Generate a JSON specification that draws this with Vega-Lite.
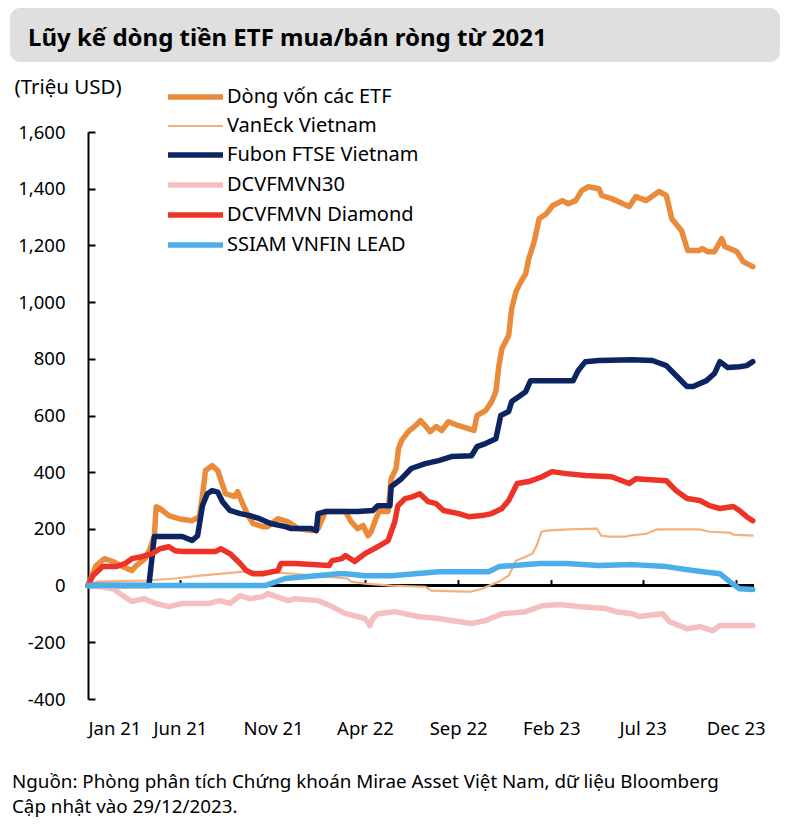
{
  "$schema": "https://vega.github.io/schema/vega-lite/v6.json",
  "padding": {"left": 10, "top": 8, "right": 8, "bottom": 2},
  "background": "white",
  "config": {"font": "Noto Sans", "view": {"stroke": null}},
  "title": {"text": ["Nguồn: Phòng phân tích Chứng khoán Mirae Asset Việt Nam, dữ liệu Bloomberg", "Cập nhật vào 29/12/2023."], "orient": "bottom", "anchor": "start", "fontSize": 18.8, "fontWeight": "normal", "font": "Noto Sans", "color": "#000", "lineHeight": 25, "offset": 35, "dx": 2},
  "columns": 1,
  "spacing": 15,
  "concat": [
    {
      "width": 770, "height": 54,
      "view": {"fill": "#dfdfdf", "cornerRadius": 10, "stroke": null},
      "data": {"values": [{"t": "Lũy kế dòng tiền ETF mua/bán ròng từ 2021"}]},
      "mark": {"type": "text", "align": "left", "baseline": "alphabetic", "font": "Noto Sans", "fontWeight": "bold", "fontSize": 24, "color": "#000"},
      "encoding": {"text": {"field": "t"}, "x": {"value": 18}, "y": {"value": 38}}
    },
    {
      "width": 744, "height": 567,
      "data": {"values": [
        {"d":"2021-01-01","s":"Dòng vốn các ETF","v":0},
        {"d":"2021-01-14","s":"Dòng vốn các ETF","v":70},
        {"d":"2021-01-28","s":"Dòng vốn các ETF","v":95},
        {"d":"2021-02-11","s":"Dòng vốn các ETF","v":85},
        {"d":"2021-02-27","s":"Dòng vốn các ETF","v":67},
        {"d":"2021-03-14","s":"Dòng vốn các ETF","v":53},
        {"d":"2021-03-21","s":"Dòng vốn các ETF","v":70},
        {"d":"2021-04-05","s":"Dòng vốn các ETF","v":95},
        {"d":"2021-04-13","s":"Dòng vốn các ETF","v":130},
        {"d":"2021-04-20","s":"Dòng vốn các ETF","v":176},
        {"d":"2021-04-23","s":"Dòng vốn các ETF","v":278},
        {"d":"2021-04-29","s":"Dòng vốn các ETF","v":272},
        {"d":"2021-05-14","s":"Dòng vốn các ETF","v":247},
        {"d":"2021-05-30","s":"Dòng vốn các ETF","v":236},
        {"d":"2021-06-21","s":"Dòng vốn các ETF","v":229},
        {"d":"2021-07-03","s":"Dòng vốn các ETF","v":243},
        {"d":"2021-07-08","s":"Dòng vốn các ETF","v":317},
        {"d":"2021-07-13","s":"Dòng vốn các ETF","v":406},
        {"d":"2021-07-24","s":"Dòng vốn các ETF","v":423},
        {"d":"2021-08-02","s":"Dòng vốn các ETF","v":406},
        {"d":"2021-08-15","s":"Dòng vốn các ETF","v":324},
        {"d":"2021-08-30","s":"Dòng vốn các ETF","v":314},
        {"d":"2021-09-04","s":"Dòng vốn các ETF","v":331},
        {"d":"2021-09-12","s":"Dòng vốn các ETF","v":289},
        {"d":"2021-09-21","s":"Dòng vốn các ETF","v":247},
        {"d":"2021-09-29","s":"Dòng vốn các ETF","v":219},
        {"d":"2021-10-15","s":"Dòng vốn các ETF","v":208},
        {"d":"2021-10-23","s":"Dòng vốn các ETF","v":208},
        {"d":"2021-11-09","s":"Dòng vốn các ETF","v":236},
        {"d":"2021-11-25","s":"Dòng vốn các ETF","v":226},
        {"d":"2021-12-12","s":"Dòng vốn các ETF","v":201},
        {"d":"2022-01-03","s":"Dòng vốn các ETF","v":194},
        {"d":"2022-01-14","s":"Dòng vốn các ETF","v":201},
        {"d":"2022-01-26","s":"Dòng vốn các ETF","v":261},
        {"d":"2022-02-28","s":"Dòng vốn các ETF","v":261},
        {"d":"2022-03-09","s":"Dòng vốn các ETF","v":226},
        {"d":"2022-03-20","s":"Dòng vốn các ETF","v":201},
        {"d":"2022-03-29","s":"Dòng vốn các ETF","v":212},
        {"d":"2022-04-06","s":"Dòng vốn các ETF","v":176},
        {"d":"2022-04-11","s":"Dòng vốn các ETF","v":190},
        {"d":"2022-04-19","s":"Dòng vốn các ETF","v":236},
        {"d":"2022-04-25","s":"Dòng vốn các ETF","v":265},
        {"d":"2022-05-01","s":"Dòng vốn các ETF","v":261},
        {"d":"2022-05-09","s":"Dòng vốn các ETF","v":261},
        {"d":"2022-05-14","s":"Dòng vốn các ETF","v":377},
        {"d":"2022-05-22","s":"Dòng vốn các ETF","v":413},
        {"d":"2022-05-26","s":"Dòng vốn các ETF","v":483},
        {"d":"2022-05-31","s":"Dòng vốn các ETF","v":511},
        {"d":"2022-06-11","s":"Dòng vốn các ETF","v":543},
        {"d":"2022-06-23","s":"Dòng vốn các ETF","v":564},
        {"d":"2022-07-01","s":"Dòng vốn các ETF","v":582},
        {"d":"2022-07-09","s":"Dòng vốn các ETF","v":564},
        {"d":"2022-07-17","s":"Dòng vốn các ETF","v":543},
        {"d":"2022-07-27","s":"Dòng vốn các ETF","v":561},
        {"d":"2022-08-05","s":"Dòng vốn các ETF","v":547},
        {"d":"2022-08-16","s":"Dòng vốn các ETF","v":578},
        {"d":"2022-09-02","s":"Dòng vốn các ETF","v":564},
        {"d":"2022-09-18","s":"Dòng vốn các ETF","v":554},
        {"d":"2022-09-27","s":"Dòng vốn các ETF","v":547},
        {"d":"2022-10-02","s":"Dòng vốn các ETF","v":600},
        {"d":"2022-10-16","s":"Dòng vốn các ETF","v":617},
        {"d":"2022-10-26","s":"Dòng vốn các ETF","v":649},
        {"d":"2022-11-02","s":"Dòng vốn các ETF","v":684},
        {"d":"2022-11-07","s":"Dòng vốn các ETF","v":776},
        {"d":"2022-11-12","s":"Dòng vốn các ETF","v":836},
        {"d":"2022-11-23","s":"Dòng vốn các ETF","v":882},
        {"d":"2022-11-28","s":"Dòng vốn các ETF","v":977},
        {"d":"2022-12-05","s":"Dòng vốn các ETF","v":1037},
        {"d":"2022-12-13","s":"Dòng vốn các ETF","v":1072},
        {"d":"2022-12-21","s":"Dòng vốn các ETF","v":1100},
        {"d":"2022-12-26","s":"Dòng vốn các ETF","v":1153},
        {"d":"2023-01-04","s":"Dòng vốn các ETF","v":1213},
        {"d":"2023-01-12","s":"Dòng vốn các ETF","v":1294},
        {"d":"2023-01-24","s":"Dòng vốn các ETF","v":1312},
        {"d":"2023-02-03","s":"Dòng vốn các ETF","v":1340},
        {"d":"2023-02-19","s":"Dòng vốn các ETF","v":1358},
        {"d":"2023-03-01","s":"Dòng vốn các ETF","v":1347},
        {"d":"2023-03-13","s":"Dòng vốn các ETF","v":1358},
        {"d":"2023-03-23","s":"Dòng vốn các ETF","v":1393},
        {"d":"2023-04-03","s":"Dòng vốn các ETF","v":1407},
        {"d":"2023-04-20","s":"Dòng vốn các ETF","v":1400},
        {"d":"2023-04-25","s":"Dòng vốn các ETF","v":1376},
        {"d":"2023-05-11","s":"Dòng vốn các ETF","v":1365},
        {"d":"2023-06-09","s":"Dòng vốn các ETF","v":1337},
        {"d":"2023-06-20","s":"Dòng vốn các ETF","v":1372},
        {"d":"2023-07-07","s":"Dòng vốn các ETF","v":1358},
        {"d":"2023-07-28","s":"Dòng vốn các ETF","v":1390},
        {"d":"2023-08-09","s":"Dòng vốn các ETF","v":1376},
        {"d":"2023-08-18","s":"Dòng vốn các ETF","v":1294},
        {"d":"2023-09-03","s":"Dòng vốn các ETF","v":1252},
        {"d":"2023-09-13","s":"Dòng vốn các ETF","v":1182},
        {"d":"2023-10-02","s":"Dòng vốn các ETF","v":1182},
        {"d":"2023-10-07","s":"Dòng vốn các ETF","v":1189},
        {"d":"2023-10-16","s":"Dòng vốn các ETF","v":1178},
        {"d":"2023-10-27","s":"Dòng vốn các ETF","v":1178},
        {"d":"2023-11-08","s":"Dòng vốn các ETF","v":1224},
        {"d":"2023-11-13","s":"Dòng vốn các ETF","v":1196},
        {"d":"2023-12-03","s":"Dòng vốn các ETF","v":1178},
        {"d":"2023-12-13","s":"Dòng vốn các ETF","v":1143},
        {"d":"2023-12-29","s":"Dòng vốn các ETF","v":1125},

        {"d":"2021-01-01","s":"VanEck Vietnam","v":0},
        {"d":"2021-01-17","s":"VanEck Vietnam","v":14},
        {"d":"2021-04-08","s":"VanEck Vietnam","v":18},
        {"d":"2021-05-24","s":"VanEck Vietnam","v":25},
        {"d":"2021-07-03","s":"VanEck Vietnam","v":35},
        {"d":"2021-08-10","s":"VanEck Vietnam","v":42},
        {"d":"2021-09-12","s":"VanEck Vietnam","v":49},
        {"d":"2021-10-15","s":"VanEck Vietnam","v":49},
        {"d":"2021-12-01","s":"VanEck Vietnam","v":42},
        {"d":"2022-03-03","s":"VanEck Vietnam","v":25},
        {"d":"2022-03-09","s":"VanEck Vietnam","v":14},
        {"d":"2022-04-01","s":"VanEck Vietnam","v":7},
        {"d":"2022-05-14","s":"VanEck Vietnam","v":0},
        {"d":"2022-07-09","s":"VanEck Vietnam","v":-4},
        {"d":"2022-07-19","s":"VanEck Vietnam","v":-18},
        {"d":"2022-09-14","s":"VanEck Vietnam","v":-21},
        {"d":"2022-09-23","s":"VanEck Vietnam","v":-21},
        {"d":"2022-10-10","s":"VanEck Vietnam","v":-11},
        {"d":"2022-11-07","s":"VanEck Vietnam","v":14},
        {"d":"2022-11-23","s":"VanEck Vietnam","v":35},
        {"d":"2022-12-05","s":"VanEck Vietnam","v":88},
        {"d":"2022-12-21","s":"VanEck Vietnam","v":102},
        {"d":"2023-01-01","s":"VanEck Vietnam","v":113},
        {"d":"2023-01-08","s":"VanEck Vietnam","v":141},
        {"d":"2023-01-16","s":"VanEck Vietnam","v":190},
        {"d":"2023-01-24","s":"VanEck Vietnam","v":194},
        {"d":"2023-03-01","s":"VanEck Vietnam","v":198},
        {"d":"2023-04-17","s":"VanEck Vietnam","v":201},
        {"d":"2023-04-24","s":"VanEck Vietnam","v":176},
        {"d":"2023-05-06","s":"VanEck Vietnam","v":173},
        {"d":"2023-06-04","s":"VanEck Vietnam","v":173},
        {"d":"2023-06-09","s":"VanEck Vietnam","v":176},
        {"d":"2023-07-07","s":"VanEck Vietnam","v":183},
        {"d":"2023-07-24","s":"VanEck Vietnam","v":198},
        {"d":"2023-10-03","s":"VanEck Vietnam","v":198},
        {"d":"2023-10-19","s":"VanEck Vietnam","v":190},
        {"d":"2023-11-21","s":"VanEck Vietnam","v":187},
        {"d":"2023-11-27","s":"VanEck Vietnam","v":180},
        {"d":"2023-12-29","s":"VanEck Vietnam","v":176},

        {"d":"2021-01-01","s":"Fubon FTSE Vietnam","v":0},
        {"d":"2021-04-11","s":"Fubon FTSE Vietnam","v":0},
        {"d":"2021-04-20","s":"Fubon FTSE Vietnam","v":173},
        {"d":"2021-06-05","s":"Fubon FTSE Vietnam","v":173},
        {"d":"2021-06-21","s":"Fubon FTSE Vietnam","v":159},
        {"d":"2021-06-30","s":"Fubon FTSE Vietnam","v":176},
        {"d":"2021-07-08","s":"Fubon FTSE Vietnam","v":282},
        {"d":"2021-07-16","s":"Fubon FTSE Vietnam","v":324},
        {"d":"2021-07-24","s":"Fubon FTSE Vietnam","v":335},
        {"d":"2021-08-02","s":"Fubon FTSE Vietnam","v":330},
        {"d":"2021-08-10","s":"Fubon FTSE Vietnam","v":296},
        {"d":"2021-08-22","s":"Fubon FTSE Vietnam","v":265},
        {"d":"2021-09-08","s":"Fubon FTSE Vietnam","v":254},
        {"d":"2021-09-24","s":"Fubon FTSE Vietnam","v":247},
        {"d":"2021-10-10","s":"Fubon FTSE Vietnam","v":236},
        {"d":"2021-10-28","s":"Fubon FTSE Vietnam","v":219},
        {"d":"2021-11-21","s":"Fubon FTSE Vietnam","v":208},
        {"d":"2021-12-01","s":"Fubon FTSE Vietnam","v":201},
        {"d":"2022-01-03","s":"Fubon FTSE Vietnam","v":201},
        {"d":"2022-01-11","s":"Fubon FTSE Vietnam","v":194},
        {"d":"2022-01-14","s":"Fubon FTSE Vietnam","v":254},
        {"d":"2022-01-26","s":"Fubon FTSE Vietnam","v":261},
        {"d":"2022-03-20","s":"Fubon FTSE Vietnam","v":261},
        {"d":"2022-04-14","s":"Fubon FTSE Vietnam","v":265},
        {"d":"2022-04-22","s":"Fubon FTSE Vietnam","v":282},
        {"d":"2022-05-12","s":"Fubon FTSE Vietnam","v":282},
        {"d":"2022-05-14","s":"Fubon FTSE Vietnam","v":349},
        {"d":"2022-05-31","s":"Fubon FTSE Vietnam","v":377},
        {"d":"2022-06-16","s":"Fubon FTSE Vietnam","v":413},
        {"d":"2022-07-09","s":"Fubon FTSE Vietnam","v":430},
        {"d":"2022-07-31","s":"Fubon FTSE Vietnam","v":441},
        {"d":"2022-08-21","s":"Fubon FTSE Vietnam","v":455},
        {"d":"2022-09-23","s":"Fubon FTSE Vietnam","v":458},
        {"d":"2022-10-02","s":"Fubon FTSE Vietnam","v":490},
        {"d":"2022-10-16","s":"Fubon FTSE Vietnam","v":501},
        {"d":"2022-11-02","s":"Fubon FTSE Vietnam","v":518},
        {"d":"2022-11-10","s":"Fubon FTSE Vietnam","v":600},
        {"d":"2022-11-23","s":"Fubon FTSE Vietnam","v":614},
        {"d":"2022-11-28","s":"Fubon FTSE Vietnam","v":649},
        {"d":"2022-12-10","s":"Fubon FTSE Vietnam","v":667},
        {"d":"2022-12-21","s":"Fubon FTSE Vietnam","v":684},
        {"d":"2022-12-29","s":"Fubon FTSE Vietnam","v":723},
        {"d":"2023-03-09","s":"Fubon FTSE Vietnam","v":723},
        {"d":"2023-03-17","s":"Fubon FTSE Vietnam","v":758},
        {"d":"2023-03-29","s":"Fubon FTSE Vietnam","v":790},
        {"d":"2023-04-20","s":"Fubon FTSE Vietnam","v":794},
        {"d":"2023-06-14","s":"Fubon FTSE Vietnam","v":797},
        {"d":"2023-07-17","s":"Fubon FTSE Vietnam","v":794},
        {"d":"2023-08-09","s":"Fubon FTSE Vietnam","v":776},
        {"d":"2023-08-25","s":"Fubon FTSE Vietnam","v":741},
        {"d":"2023-09-12","s":"Fubon FTSE Vietnam","v":702},
        {"d":"2023-09-22","s":"Fubon FTSE Vietnam","v":702},
        {"d":"2023-10-14","s":"Fubon FTSE Vietnam","v":723},
        {"d":"2023-10-27","s":"Fubon FTSE Vietnam","v":748},
        {"d":"2023-11-05","s":"Fubon FTSE Vietnam","v":790},
        {"d":"2023-11-18","s":"Fubon FTSE Vietnam","v":769},
        {"d":"2023-12-07","s":"Fubon FTSE Vietnam","v":772},
        {"d":"2023-12-19","s":"Fubon FTSE Vietnam","v":776},
        {"d":"2023-12-29","s":"Fubon FTSE Vietnam","v":790},

        {"d":"2021-01-01","s":"DCVFMVN30","v":0},
        {"d":"2021-01-25","s":"DCVFMVN30","v":-5},
        {"d":"2021-02-11","s":"DCVFMVN30","v":-11},
        {"d":"2021-02-27","s":"DCVFMVN30","v":-35},
        {"d":"2021-03-14","s":"DCVFMVN30","v":-56},
        {"d":"2021-04-03","s":"DCVFMVN30","v":-46},
        {"d":"2021-04-22","s":"DCVFMVN30","v":-63},
        {"d":"2021-05-14","s":"DCVFMVN30","v":-74},
        {"d":"2021-06-05","s":"DCVFMVN30","v":-63},
        {"d":"2021-07-19","s":"DCVFMVN30","v":-63},
        {"d":"2021-08-05","s":"DCVFMVN30","v":-53},
        {"d":"2021-08-22","s":"DCVFMVN30","v":-63},
        {"d":"2021-09-08","s":"DCVFMVN30","v":-35},
        {"d":"2021-09-24","s":"DCVFMVN30","v":-46},
        {"d":"2021-10-15","s":"DCVFMVN30","v":-39},
        {"d":"2021-10-23","s":"DCVFMVN30","v":-28},
        {"d":"2021-11-26","s":"DCVFMVN30","v":-53},
        {"d":"2021-12-07","s":"DCVFMVN30","v":-46},
        {"d":"2022-01-14","s":"DCVFMVN30","v":-53},
        {"d":"2022-02-06","s":"DCVFMVN30","v":-74},
        {"d":"2022-02-28","s":"DCVFMVN30","v":-99},
        {"d":"2022-03-20","s":"DCVFMVN30","v":-109},
        {"d":"2022-04-01","s":"DCVFMVN30","v":-116},
        {"d":"2022-04-09","s":"DCVFMVN30","v":-141},
        {"d":"2022-04-14","s":"DCVFMVN30","v":-116},
        {"d":"2022-04-22","s":"DCVFMVN30","v":-99},
        {"d":"2022-05-20","s":"DCVFMVN30","v":-92},
        {"d":"2022-06-27","s":"DCVFMVN30","v":-109},
        {"d":"2022-07-31","s":"DCVFMVN30","v":-116},
        {"d":"2022-09-22","s":"DCVFMVN30","v":-134},
        {"d":"2022-10-16","s":"DCVFMVN30","v":-123},
        {"d":"2022-11-12","s":"DCVFMVN30","v":-99},
        {"d":"2022-12-21","s":"DCVFMVN30","v":-92},
        {"d":"2023-01-17","s":"DCVFMVN30","v":-71},
        {"d":"2023-02-15","s":"DCVFMVN30","v":-67},
        {"d":"2023-03-17","s":"DCVFMVN30","v":-74},
        {"d":"2023-05-02","s":"DCVFMVN30","v":-81},
        {"d":"2023-05-18","s":"DCVFMVN30","v":-92},
        {"d":"2023-06-14","s":"DCVFMVN30","v":-99},
        {"d":"2023-06-25","s":"DCVFMVN30","v":-109},
        {"d":"2023-08-03","s":"DCVFMVN30","v":-99},
        {"d":"2023-08-14","s":"DCVFMVN30","v":-127},
        {"d":"2023-09-12","s":"DCVFMVN30","v":-152},
        {"d":"2023-10-03","s":"DCVFMVN30","v":-145},
        {"d":"2023-10-24","s":"DCVFMVN30","v":-159},
        {"d":"2023-11-05","s":"DCVFMVN30","v":-141},
        {"d":"2023-12-29","s":"DCVFMVN30","v":-141},

        {"d":"2021-01-01","s":"DCVFMVN Diamond","v":0},
        {"d":"2021-01-09","s":"DCVFMVN Diamond","v":35},
        {"d":"2021-01-25","s":"DCVFMVN Diamond","v":67},
        {"d":"2021-02-16","s":"DCVFMVN Diamond","v":67},
        {"d":"2021-03-03","s":"DCVFMVN Diamond","v":78},
        {"d":"2021-03-14","s":"DCVFMVN Diamond","v":95},
        {"d":"2021-03-30","s":"DCVFMVN Diamond","v":102},
        {"d":"2021-04-17","s":"DCVFMVN Diamond","v":113},
        {"d":"2021-04-29","s":"DCVFMVN Diamond","v":130},
        {"d":"2021-05-14","s":"DCVFMVN Diamond","v":137},
        {"d":"2021-05-24","s":"DCVFMVN Diamond","v":123},
        {"d":"2021-06-05","s":"DCVFMVN Diamond","v":120},
        {"d":"2021-07-29","s":"DCVFMVN Diamond","v":120},
        {"d":"2021-08-07","s":"DCVFMVN Diamond","v":130},
        {"d":"2021-08-22","s":"DCVFMVN Diamond","v":113},
        {"d":"2021-09-08","s":"DCVFMVN Diamond","v":78},
        {"d":"2021-09-18","s":"DCVFMVN Diamond","v":53},
        {"d":"2021-09-29","s":"DCVFMVN Diamond","v":42},
        {"d":"2021-10-15","s":"DCVFMVN Diamond","v":42},
        {"d":"2021-11-09","s":"DCVFMVN Diamond","v":53},
        {"d":"2021-11-14","s":"DCVFMVN Diamond","v":78},
        {"d":"2021-12-07","s":"DCVFMVN Diamond","v":78},
        {"d":"2022-02-01","s":"DCVFMVN Diamond","v":71},
        {"d":"2022-02-06","s":"DCVFMVN Diamond","v":88},
        {"d":"2022-02-22","s":"DCVFMVN Diamond","v":95},
        {"d":"2022-02-28","s":"DCVFMVN Diamond","v":106},
        {"d":"2022-03-15","s":"DCVFMVN Diamond","v":85},
        {"d":"2022-04-01","s":"DCVFMVN Diamond","v":113},
        {"d":"2022-04-22","s":"DCVFMVN Diamond","v":137},
        {"d":"2022-05-09","s":"DCVFMVN Diamond","v":159},
        {"d":"2022-05-20","s":"DCVFMVN Diamond","v":226},
        {"d":"2022-05-25","s":"DCVFMVN Diamond","v":282},
        {"d":"2022-06-06","s":"DCVFMVN Diamond","v":307},
        {"d":"2022-06-19","s":"DCVFMVN Diamond","v":314},
        {"d":"2022-06-30","s":"DCVFMVN Diamond","v":324},
        {"d":"2022-07-14","s":"DCVFMVN Diamond","v":296},
        {"d":"2022-07-27","s":"DCVFMVN Diamond","v":289},
        {"d":"2022-08-08","s":"DCVFMVN Diamond","v":265},
        {"d":"2022-09-02","s":"DCVFMVN Diamond","v":254},
        {"d":"2022-09-18","s":"DCVFMVN Diamond","v":243},
        {"d":"2022-10-10","s":"DCVFMVN Diamond","v":247},
        {"d":"2022-10-26","s":"DCVFMVN Diamond","v":254},
        {"d":"2022-11-12","s":"DCVFMVN Diamond","v":272},
        {"d":"2022-11-23","s":"DCVFMVN Diamond","v":300},
        {"d":"2022-12-07","s":"DCVFMVN Diamond","v":360},
        {"d":"2022-12-26","s":"DCVFMVN Diamond","v":367},
        {"d":"2023-01-17","s":"DCVFMVN Diamond","v":384},
        {"d":"2023-02-02","s":"DCVFMVN Diamond","v":402},
        {"d":"2023-02-26","s":"DCVFMVN Diamond","v":395},
        {"d":"2023-03-29","s":"DCVFMVN Diamond","v":388},
        {"d":"2023-05-11","s":"DCVFMVN Diamond","v":384},
        {"d":"2023-06-09","s":"DCVFMVN Diamond","v":360},
        {"d":"2023-06-20","s":"DCVFMVN Diamond","v":377},
        {"d":"2023-08-09","s":"DCVFMVN Diamond","v":370},
        {"d":"2023-08-25","s":"DCVFMVN Diamond","v":335},
        {"d":"2023-09-12","s":"DCVFMVN Diamond","v":307},
        {"d":"2023-10-03","s":"DCVFMVN Diamond","v":300},
        {"d":"2023-10-19","s":"DCVFMVN Diamond","v":282},
        {"d":"2023-11-05","s":"DCVFMVN Diamond","v":272},
        {"d":"2023-11-27","s":"DCVFMVN Diamond","v":279},
        {"d":"2023-12-07","s":"DCVFMVN Diamond","v":265},
        {"d":"2023-12-19","s":"DCVFMVN Diamond","v":243},
        {"d":"2023-12-29","s":"DCVFMVN Diamond","v":229},

        {"d":"2021-01-01","s":"SSIAM VNFIN LEAD","v":0},
        {"d":"2021-10-19","s":"SSIAM VNFIN LEAD","v":0},
        {"d":"2021-11-21","s":"SSIAM VNFIN LEAD","v":25},
        {"d":"2022-02-17","s":"SSIAM VNFIN LEAD","v":42},
        {"d":"2022-02-28","s":"SSIAM VNFIN LEAD","v":42},
        {"d":"2022-04-01","s":"SSIAM VNFIN LEAD","v":35},
        {"d":"2022-05-14","s":"SSIAM VNFIN LEAD","v":35},
        {"d":"2022-07-31","s":"SSIAM VNFIN LEAD","v":49},
        {"d":"2022-08-16","s":"SSIAM VNFIN LEAD","v":49},
        {"d":"2022-10-21","s":"SSIAM VNFIN LEAD","v":49},
        {"d":"2022-11-07","s":"SSIAM VNFIN LEAD","v":67},
        {"d":"2023-01-13","s":"SSIAM VNFIN LEAD","v":78},
        {"d":"2023-02-26","s":"SSIAM VNFIN LEAD","v":78},
        {"d":"2023-04-20","s":"SSIAM VNFIN LEAD","v":71},
        {"d":"2023-06-14","s":"SSIAM VNFIN LEAD","v":74},
        {"d":"2023-08-09","s":"SSIAM VNFIN LEAD","v":67},
        {"d":"2023-09-22","s":"SSIAM VNFIN LEAD","v":53},
        {"d":"2023-11-05","s":"SSIAM VNFIN LEAD","v":42},
        {"d":"2023-11-21","s":"SSIAM VNFIN LEAD","v":14},
        {"d":"2023-12-07","s":"SSIAM VNFIN LEAD","v":-11},
        {"d":"2023-12-29","s":"SSIAM VNFIN LEAD","v":-14}
      ]},
      "resolve": {"axis": {"x": "independent"}},
      "layer": [
        {
          "mark": {"type": "rule", "color": "#000", "strokeWidth": 2.5},
          "encoding": {
            "x": {"datum": {"year": 2021, "month": 1, "date": 1, "utc": true}, "type": "temporal",
              "scale": {"type": "utc", "range": [78, 744], "domain": [{"year": 2021, "month": 1, "date": 1, "utc": true}, {"year": 2023, "month": 12, "date": 31, "utc": true}]},
              "axis": {"orient": "top", "offset": -453.6, "domain": false, "labels": false, "grid": false, "title": null, "ticks": true, "tickSize": 6, "tickWidth": 2, "tickColor": "#000",
                "values": [{"year": 2021, "month": 6, "date": 1, "utc": true}, {"year": 2021, "month": 11, "date": 1, "utc": true}, {"year": 2022, "month": 4, "date": 1, "utc": true}, {"year": 2022, "month": 9, "date": 1, "utc": true}, {"year": 2023, "month": 2, "date": 1, "utc": true}, {"year": 2023, "month": 7, "date": 1, "utc": true}, {"year": 2023, "month": 12, "date": 1, "utc": true}]}},
            "x2": {"datum": {"year": 2023, "month": 12, "date": 31, "utc": true}},
            "y": {"datum": 0, "type": "quantitative"}
          }
        },
        {
          "mark": {"type": "line", "strokeCap": "round", "strokeJoin": "round"},
          "encoding": {
            "x": {"field": "d", "type": "temporal",
              "scale": {"type": "utc", "range": [78, 744], "domain": [{"year": 2021, "month": 1, "date": 1, "utc": true}, {"year": 2023, "month": 12, "date": 31, "utc": true}]},
              "axis": {"orient": "bottom", "domain": false, "ticks": false, "grid": false, "title": null, "format": "%b %y", "labelFontSize": 18.5, "labelColor": "#000", "labelPadding": 20, "labelFlush": true, "labelFont": "Noto Sans",
                "values": [{"year": 2021, "month": 1, "date": 1, "utc": true}, {"year": 2021, "month": 6, "date": 1, "utc": true}, {"year": 2021, "month": 11, "date": 1, "utc": true}, {"year": 2022, "month": 4, "date": 1, "utc": true}, {"year": 2022, "month": 9, "date": 1, "utc": true}, {"year": 2023, "month": 2, "date": 1, "utc": true}, {"year": 2023, "month": 7, "date": 1, "utc": true}, {"year": 2023, "month": 12, "date": 1, "utc": true}]}},
            "y": {"field": "v", "type": "quantitative",
              "scale": {"domain": [-400, 1600], "nice": false, "zero": false},
              "axis": {"orient": "left", "offset": -78, "values": [-400, -200, 0, 200, 400, 600, 800, 1000, 1200, 1400, 1600], "grid": false,
                "labelExpr": "datum.value < 0 ? '-' + format(-datum.value, ',') : format(datum.value, ',')",
                "domainColor": "#000", "domainWidth": 2, "tickColor": "#000", "tickWidth": 2, "tickSize": -7, "labelPadding": 30, "labelFontSize": 18.5, "labelColor": "#000", "labelFont": "Noto Sans",
                "title": "(Triệu USD)", "titleAngle": 0, "titleX": -74, "titleY": -39, "titleAlign": "left", "titleBaseline": "alphabetic", "titleFontSize": 20.5, "titleFontWeight": "normal", "titleColor": "#000", "titleFont": "Noto Sans"}},
            "color": {"field": "s", "type": "nominal", "sort": null,
              "scale": {"domain": ["Dòng vốn các ETF", "VanEck Vietnam", "Fubon FTSE Vietnam", "DCVFMVN30", "DCVFMVN Diamond", "SSIAM VNFIN LEAD"], "range": ["#E98B3A", "#F2B27E", "#0C2461", "#F5BFBF", "#EC3325", "#4BAEE9"]},
              "legend": {"orient": "none", "legendX": 175.5, "legendY": 79, "title": null, "symbolType": "M-5,0H5", "symbolSize": 121, "labelFontSize": 20, "labelColor": "#000", "labelFont": "Noto Sans", "rowPadding": 8, "labelOffset": 21.5, "labelLimit": 400}},
            "strokeWidth": {"field": "s", "type": "nominal", "sort": null,
              "scale": {"type": "ordinal", "domain": ["Dòng vốn các ETF", "VanEck Vietnam", "Fubon FTSE Vietnam", "DCVFMVN30", "DCVFMVN Diamond", "SSIAM VNFIN LEAD"], "range": [5.5, 2.2, 5.5, 5.5, 5.5, 5.5]},
              "legend": {"orient": "none", "legendX": 175.5, "legendY": 79, "title": null, "symbolType": "M-5,0H5", "symbolSize": 121, "labelFontSize": 20, "labelColor": "#000", "labelFont": "Noto Sans", "rowPadding": 8, "labelOffset": 21.5, "labelLimit": 400}}
          }
        }
      ]
    }
  ]
}
